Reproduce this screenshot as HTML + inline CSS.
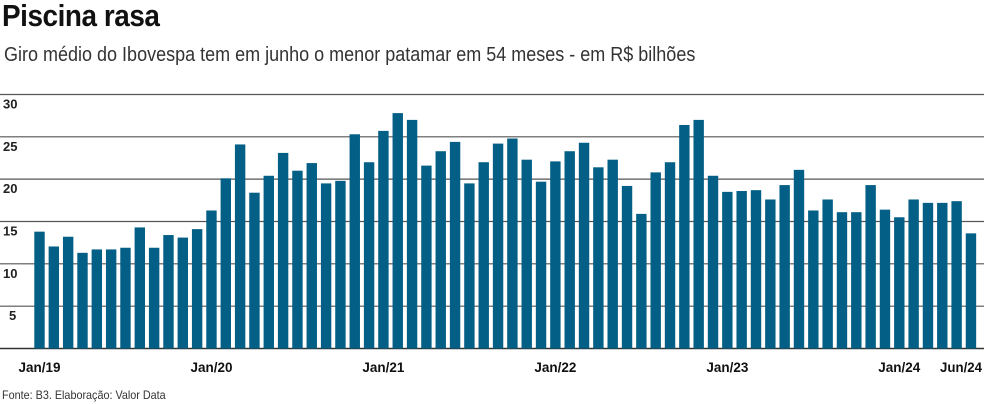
<!DOCTYPE html>
<html><head><meta charset="utf-8"><style>
body{margin:0;background:#fff;width:984px;height:404px;overflow:hidden;font-family:"Liberation Sans",sans-serif}
#t{position:absolute;left:2px;top:-2px;font-size:31px;font-weight:bold;color:#111;letter-spacing:-0.5px;transform:scaleX(0.9);transform-origin:left}
#s{position:absolute;left:4px;top:44px;font-size:20px;color:#333;transform:scaleX(0.9);transform-origin:left;white-space:nowrap}
#f{position:absolute;left:2px;top:388px;font-size:12px;color:#333;transform:scaleX(0.9);transform-origin:left}
svg{position:absolute;left:0;top:0}
</style></head><body>
<div id="t">Piscina rasa</div>
<div id="s">Giro médio do Ibovespa tem em junho o menor patamar em 54 meses - em R$ bilhões</div>
<svg id="c" width="984" height="404"></svg>
<div id="f">Fonte: B3. Elaboração: Valor Data</div>
<script>
const values=[13.8,12.05,13.2,11.3,11.7,11.7,11.9,14.3,11.9,13.4,13.1,14.1,16.3,20.1,24.1,18.4,20.4,23.1,21.0,21.9,19.5,19.8,25.3,22.0,25.7,27.8,27.0,21.6,23.3,24.4,19.5,22.0,24.2,24.8,22.3,19.7,22.1,23.3,24.3,21.4,22.3,19.2,15.9,20.8,22.0,26.4,27.0,20.4,18.5,18.6,18.7,17.6,19.3,21.1,16.3,17.6,16.1,16.1,19.3,16.4,15.5,17.6,17.2,17.2,17.4,13.6];
const yTicks=[5,10,15,20,25,30];
const xLabels=[[0,"Jan/19"],[12,"Jan/20"],[24,"Jan/21"],[36,"Jan/22"],[48,"Jan/23"],[60,"Jan/24"],[65,"Jun/24"]];
const svg=document.getElementById('c');const NS="http://www.w3.org/2000/svg";
const y=v=>348.5-v*8.467;const x0=34.3,pitch=14.33,bw=10.4;
function mk(t,a){const e=document.createElementNS(NS,t);for(const k in a)e.setAttribute(k,a[k]);svg.appendChild(e);return e;}
yTicks.concat([0]).forEach(v=>{
 const l=mk('line',{x1:0,x2:984,y1:y(v),y2:y(v),stroke:v==0?'#333':'#555','stroke-width':v==0?1.5:1.2});
 
 
});
yTicks.forEach(v=>{
 const t=mk('text',{x:v==5?9:3,y:y(v)+14,'font-size':13,'font-weight':'bold',fill:'#222'});t.textContent=v;
 
 
});
values.forEach((v,i)=>{
 const r=mk('rect',{x:x0+i*pitch,y:y(v),width:bw,height:348.5-y(v),fill:'#035f86'});
 
 
});
xLabels.forEach(([i,s],k)=>{
 const last=k==xLabels.length-1;
 const cx=last?982:x0+i*pitch+bw/2;
 const t=mk('text',{x:cx,y:372,'font-size':14,'font-weight':'bold',fill:'#111','text-anchor':last?'end':'middle',textLength:42,lengthAdjust:'spacingAndGlyphs'});t.textContent=s;
 
 
});
</script>
</body></html>
